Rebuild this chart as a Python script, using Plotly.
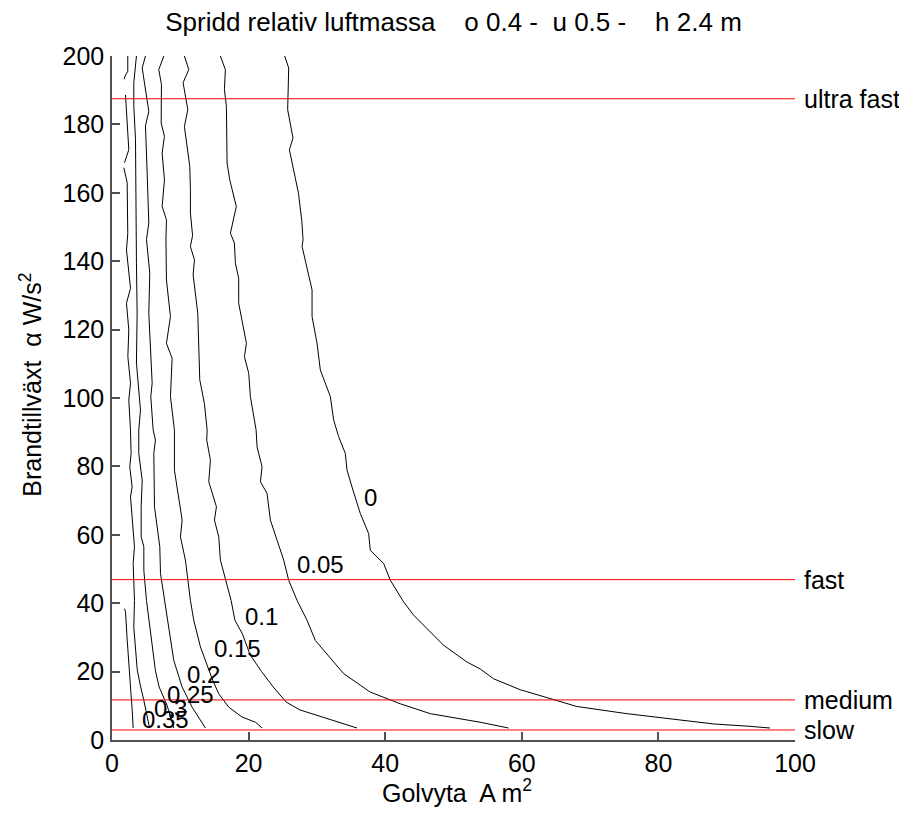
import plotly.graph_objects as go

# ---------------- data ----------------
title_text = "Spridd relativ luftmassa\u00a0\u00a0\u00a0 o 0.4 -\u00a0 u 0.5 -\u00a0\u00a0\u00a0 h 2.4 m"
x_ticks = [0, 20, 40, 60, 80, 100]
y_ticks = [0, 20, 40, 60, 80, 100, 120, 140, 160, 180, 200]

# contour levels and their traced polylines (Golvyta A, Brandtillväxt alpha)
levels = ["0", "0.05", "0.1", "0.15", "0.2", "0.25", "0.3", "0.35"]

x_0 = [25.28, 25.87, 25.72, 26.5, 25.97, 27.3, 27.8, 27.97, 27.83, 29.29, 29.29, 30.02, 30.5, 31.97,
       32.45, 33.18, 34.16, 34.41, 35.14, 36.36, 37.57, 37.82, 39.77, 40.75, 42.69, 44.16, 48.55,
       51.97, 53.9, 55.86, 59.77, 65.13, 68.06, 75.38, 82.2, 88.05, 93.4, 96.34]
y_0 = [200, 196.5, 184.3, 176, 172.6, 159.9, 151.6, 146.3, 144.3, 131.6, 123.8, 116, 108.2, 100.4,
       93.6, 88.7, 83.8, 78.9, 74, 66.2, 60.4, 55.5, 51.6, 46.7, 40.4, 36.5, 27.7,
       22.8, 20.8, 17.9, 14.7, 11.6, 9.8, 7.7, 6.0, 4.7, 4.0, 3.5]

x_005 = [15.87, 16.6, 16.46, 16.75, 16.85, 17.24, 18.2, 17.34, 17.92, 18.07, 18.55, 18.55, 19.68, 19.39,
         20.02, 20.26, 21.1, 21.24, 21.97, 21.73, 22.7, 23.19, 24.17, 25.14, 25.87, 27.1, 28.56,
         29.77, 33.92, 37.82, 42.2, 46.6, 53.9, 58.05]
y_005 = [200, 196, 190.2, 185.3, 168.7, 163.8, 156, 148.2, 145.3, 139.4, 135, 127.7, 116, 112.1,
         107.2, 100.4, 90.6, 85.7, 79.9, 75.5, 72.1, 64.3, 58.4, 52.6, 46.7, 40.8, 35,
         29.1, 19.4, 14.0, 10.6, 7.7, 5.2, 3.5]

x_01 = [10.6, 11.24, 10.41, 11.1, 10.6, 11.1, 11.39, 11.48, 11.48, 11.8, 11.48, 12.07, 11.88, 12.56,
        12.85, 13.53, 13.93, 13.87, 14.41, 14.17, 15.29, 15.0, 15.63, 15.87, 16.61, 17.44, 18.0,
        19.1, 20.2, 21.9, 23.6, 25.5, 27.5, 30.0, 33.0, 35.87]
y_01 = [200, 196, 192.2, 184.3, 179.4, 172.6, 167.7, 160.9, 154.1, 147.5, 144.3, 140.4, 136, 124.8,
        105.3, 98.4, 90.6, 87.7, 81.8, 75.5, 68.2, 64.3, 59.4, 52.6, 46.7, 40.8, 35,
        31, 25, 20, 15.5, 11.1, 8.8, 7.2, 5.3, 3.5]

x_015 = [7.58, 6.85, 7.24, 7.2, 7.68, 7.34, 7.68, 7.34, 7.97, 7.9, 7.97, 8.56, 7.97, 8.8, 8.56, 9.0,
         9.14, 9.14, 9.78, 10.27, 10.02, 10.75, 11.48, 11.97, 12.95, 13.68, 14.66, 15.63, 17.09,
         19.05, 21.0, 21.97]
y_015 = [200, 196, 191.7, 180.4, 176.5, 171.6, 163.8, 156, 152.1, 146.5, 134.5, 123.8, 116, 111.6, 100.4, 93.6,
         90.6, 78.9, 71.1, 64.3, 59.4, 52.6, 40.8, 35, 27.2, 23.3, 17.9, 13.5, 9.6,
         6.7, 5.2, 3.5]

x_02 = [4.9, 4.42, 5.39, 4.9, 5.15, 5.39, 5.05, 5.53, 5.39, 5.88, 5.68, 6.03, 6.36, 6.12, 6.22, 7.0,
        7.1, 7.68, 8.07, 9.04, 10.27, 11.73, 13.68]
y_02 = [200, 196.5, 183.8, 179.6, 165.8, 151.2, 146.3, 136.5, 124.8, 104.3, 100.4, 90.6, 87.7, 83.8, 68.2, 56.5,
        48.7, 40.8, 35, 23.3, 15.5, 9.6, 3.5]

x_025 = [3.58, 3.19, 3.2, 3.44, 3.5, 3.5, 3.58, 3.68, 3.58, 4.17, 3.92, 3.92, 4.42, 4.27, 4.27, 4.66,
         4.66, 5.05, 5.4, 5.8, 6.35, 6.9, 8.07, 9.04]
y_025 = [200, 192.2, 185, 175.5, 160, 146.3, 139.4, 124.8, 110.2, 96.5, 90.6, 83.8, 76, 68.2, 59.4, 56.5,
         49.6, 40.8, 35, 28, 20.4, 15.5, 10.1, 3.5]

x_03 = [2.31, 2.31, 2.0, 1.75, None, 1.98, 2.22, 2.46, 1.83, None, 1.73, 2.22, 2.31, 2.12, 2.71,
        2.12, 2.46, 2.32, 2.71, 2.46, 2.71, 2.8, 2.6, 2.95, 2.71, 2.95, 3.29, 3.1, 3.19, 3.29,
        3.19, 3.5, 3.7, 4.2, 4.66, 5.5]
y_03 = [200, 195.5, 194.5, 193.2, None, 188.6, 180.5, 172.6, 168.8, None, 167.3, 163, 148, 143.3, 132.1,
        127.7, 119.9, 112.1, 104.3, 99.4, 90.6, 83.8, 79.9, 74, 71.1, 64.3, 56.5, 51.6, 44.7, 40.8,
        33, 25, 20.4, 15.5, 11.6, 3.5]

x_035 = [1.83, 1.98, 2.2, 2.46, 2.8, 2.95, 3.1]
y_035 = [38.4, 37.5, 30, 21, 13, 9, 3.5]

# contour label anchor points (left edge of text)
label_x = [36.65, 26.85, 19.2, 14.66, 10.75, 7.83, 5.88, 4.17]
label_y = [71.0, 51.4, 36.2, 26.9, 19.2, 13.3, 9.2, 6.0]

# fire-growth reference levels (W/s^2)
growth_names = ["ultra fast", "fast", "medium", "slow"]
growth_alpha = [187.5, 46.89, 11.72, 2.93]

# ---------------- figure ----------------
FONT = "Liberation Sans, Arial, Helvetica, sans-serif"
fig = go.Figure()

series = [(x_0, y_0), (x_005, y_005), (x_01, y_01), (x_015, y_015),
          (x_02, y_02), (x_025, y_025), (x_03, y_03), (x_035, y_035)]
for (xs, ys), lev in zip(series, levels):
    fig.add_trace(go.Scatter(x=xs, y=ys, mode="lines", name=lev,
                             line=dict(color="black", width=1),
                             connectgaps=False, hoverinfo="skip", showlegend=False))

for name, a in zip(growth_names, growth_alpha):
    fig.add_trace(go.Scatter(x=[x_ticks[0], x_ticks[-1]], y=[a, a], mode="lines",
                             line=dict(color="#ff0000", width=1),
                             hoverinfo="skip", showlegend=False))

annotations = []
for lx, ly, lev in zip(label_x, label_y, levels):
    annotations.append(dict(x=lx, y=ly, xref="x", yref="y", text=lev, showarrow=False,
                            xanchor="left", yanchor="middle",
                            font=dict(family=FONT, size=24, color="black")))
for name, a in zip(growth_names, growth_alpha):
    annotations.append(dict(x=x_ticks[-1], y=a, xref="x", yref="y", text=name, showarrow=False,
                            xanchor="left", yanchor="middle", xshift=7,
                            font=dict(family=FONT, size=25, color="black")))
# axis titles
annotations.append(dict(x=0.505, y=-0.074, xref="paper", yref="paper",
                        text="Golvyta\u00a0 A m<sup>2</sup>", showarrow=False,
                        xanchor="center", yanchor="middle",
                        font=dict(family=FONT, size=25, color="black")))
annotations.append(dict(x=-0.119, y=0.519, xref="paper", yref="paper",
                        text="Brandtillväxt\u00a0 α W/s<sup>2</sup>", showarrow=False,
                        textangle=-90, xanchor="center", yanchor="middle",
                        font=dict(family=FONT, size=25, color="black")))

axis_common = dict(showgrid=False, zeroline=False, showline=True, linecolor="#505050",
                   linewidth=1.5, ticks="inside", ticklen=8, tickcolor="#505050",
                   tickwidth=1.5, tickfont=dict(family=FONT, size=25, color="black"))

# the page body adds an 8 px offset, so the figure is 8 px smaller than the window
fig.update_layout(
    width=899, height=813,
    margin=dict(l=104, r=112, t=48, b=81),
    paper_bgcolor="white", plot_bgcolor="white",
    title=dict(text=title_text, x=0.5, xref="paper", xanchor="center",
               y=1 - 14 / 813, yanchor="middle",
               font=dict(family=FONT, size=26, color="black")),
    xaxis=dict(range=[0, 100], tickvals=x_ticks, **axis_common),
    yaxis=dict(range=[0, 200], tickvals=y_ticks, ticklabelstandoff=1, **axis_common),
    annotations=annotations,
)

fig.write_html("out.html")
